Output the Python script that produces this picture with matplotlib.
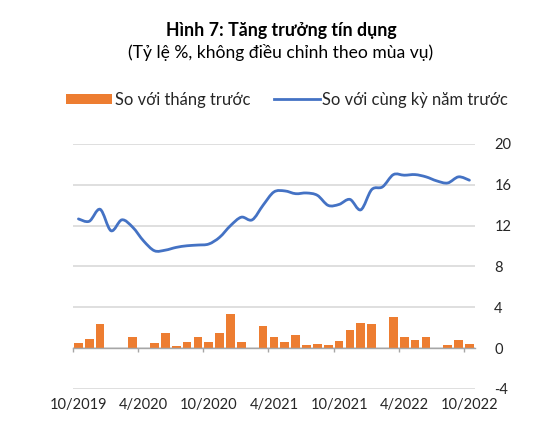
import matplotlib
matplotlib.use("Agg")
import matplotlib.pyplot as plt
import matplotlib.transforms as mtransforms
from matplotlib.patches import Patch, PathPatch
from matplotlib.lines import Line2D
from matplotlib.path import Path

plt.rcParams['font.family'] = ['Lato', 'DejaVu Sans']

# Data: monthly, 10/2019 .. 10/2022
months = ["10/2019", "11/2019", "12/2019", "1/2020", "2/2020", "3/2020", "4/2020",
          "5/2020", "6/2020", "7/2020", "8/2020", "9/2020", "10/2020", "11/2020",
          "12/2020", "1/2021", "2/2021", "3/2021", "4/2021", "5/2021", "6/2021",
          "7/2021", "8/2021", "9/2021", "10/2021", "11/2021", "12/2021", "1/2022",
          "2/2022", "3/2022", "4/2022", "5/2022", "6/2022", "7/2022", "8/2022",
          "9/2022", "10/2022"]

mom = [0.55, 0.85, 2.35, 0.0, 0.0, 1.05, 0.0, 0.5, 1.5, 0.25, 0.65, 1.1, 0.6, 1.45,
       3.3, 0.65, 0.0, 2.15, 1.05, 0.65, 1.3, 0.3, 0.4, 0.35, 0.7, 1.75, 2.45, 2.35,
       0.0, 3.05, 1.1, 0.75, 1.1, 0.0, 0.35, 0.8, 0.45]

yoy = [12.66, 12.43, 13.6, 11.5, 12.57, 11.84, 10.5, 9.54, 9.6, 9.87, 10.03, 10.1,
       10.2, 10.86, 12.0, 12.83, 12.57, 14.0, 15.3, 15.4, 15.13, 15.2, 14.97, 13.98,
       14.08, 14.57, 13.55, 15.53, 15.8, 17.0, 16.94, 17.0, 16.78, 16.38, 16.18,
       16.78, 16.45]

label_months = ["10/2019", "4/2020", "10/2020", "4/2021", "10/2021", "4/2022", "10/2022"]
yticks = [-4, 0, 4, 8, 12, 16, 20]

orange = "#ED7D31"
blue = "#4472C4"
grid_c = "#D9D9D9"
text_c = "#262626"


def smooth_path(xs, ys, t=1 / 6):
    # Excel-like smoothed line: Catmull-Rom through the points as cubic Beziers
    verts = [(xs[0], ys[0])]
    codes = [Path.MOVETO]
    n = len(xs)
    for i in range(n - 1):
        x0, y0 = (xs[i - 1], ys[i - 1]) if i > 0 else (xs[i], ys[i])
        x1, y1 = xs[i], ys[i]
        x2, y2 = xs[i + 1], ys[i + 1]
        x3, y3 = (xs[i + 2], ys[i + 2]) if i + 2 < n else (x2, y2)
        verts += [(x1 + (x2 - x0) * t, y1 + (y2 - y0) * t),
                  (x2 - (x3 - x1) * t, y2 - (y3 - y1) * t),
                  (x2, y2)]
        codes += [Path.CURVE4] * 3
    return Path(verts, codes)


fig = plt.figure(figsize=(5.46, 4.38), dpi=100)
ax = fig.add_axes([0.1337, 0.1119, 0.736, 0.5594])

x = list(range(len(months)))
ax.bar(x, mom, width=0.8, color=orange, zorder=2)
ax.add_patch(PathPatch(smooth_path(x, yoy), facecolor='none', edgecolor=blue,
                       linewidth=2.0, zorder=3, capstyle='round', joinstyle='round'))

ax.set_xlim(-0.5, len(months) - 0.5)
ax.set_ylim(-4, 20)

# y axis on right, gridlines
ax.yaxis.tick_right()
ax.set_yticks(yticks)
ax.set_yticklabels([str(v) for v in yticks])
ax.tick_params(axis='y', which='both', length=0, pad=14, labelsize=10.5,
               labelcolor=text_c)
ax.grid(axis='y', color=grid_c, linewidth=1.2, zorder=0)
for s in ['top', 'left', 'right']:
    ax.spines[s].set_visible(False)

# x axis line at zero with tick marks on month boundaries
idx = [months.index(m) for m in label_months]
ax.spines['bottom'].set_position(('data', 0))
ax.spines['bottom'].set_color("#A6A6A6")
ax.spines['bottom'].set_linewidth(1.0)
ax.set_xticks([i - 0.5 for i in idx])
ax.set_xticklabels([])
ax.tick_params(axis='x', which='major', direction='out', length=3.2,
               color="#A6A6A6", width=1.0)
ax.tick_params(axis='x', which='minor', length=0)

# month labels under the plot area (category centres)
trans = mtransforms.blended_transform_factory(ax.transData, ax.transAxes)
for i, lab in zip(idx, label_months):
    ax.text(i, -0.035, lab, transform=trans, ha='center', va='top',
            fontsize=10.5, color=text_c)

fig.text(0.516, 0.931, "Hình 7: Tăng trưởng tín dụng", ha='center', va='center',
         fontsize=12.8, fontweight='bold', color='black')
fig.text(0.513, 0.881, "(Tỷ lệ %, không điều chỉnh theo mùa vụ)", ha='center',
         va='center', fontsize=12.6, color='black')

handles = [Patch(facecolor=orange, edgecolor='none'),
           Line2D([0], [0], color=blue, linewidth=2.0)]
fig.legend(handles, ["So với tháng trước", "So với cùng kỳ năm trước"], ncol=2,
           loc='center', bbox_to_anchor=(0.526, 0.772), frameon=False,
           fontsize=11.9, handlelength=2.8, handletextpad=0.15, columnspacing=1.4,
           handleheight=0.55, labelcolor=text_c)

fig.savefig("out.png", dpi=100)
